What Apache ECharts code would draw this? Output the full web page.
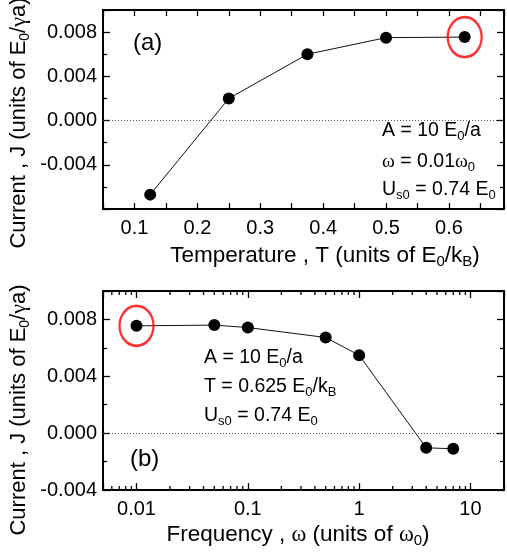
<!DOCTYPE html>
<html>
<head>
<meta charset="utf-8">
<script src="https://cdn.jsdelivr.net/npm/echarts@6/dist/echarts.min.js"></script>
<style>
  html, body { margin: 0; padding: 0; background: #fff; }
  #chart { width: 507px; height: 556px; }
</style>
</head>
<body>
<div id="chart"></div>
<script>
// panel (a): current vs temperature
const tempT = [0.125, 0.25, 0.375, 0.5, 0.625]
const currentA = [-0.0067, 0.0020, 0.0060, 0.0075, 0.00755]
const markedA = [0.625, 0.00755]
const xTicksA = ['0.1', '0.2', '0.3', '0.4', '0.5', '0.6']

// panel (b): current vs frequency
const freqW = [0.01, 0.05, 0.1, 0.5, 1, 4, 7]
const currentB = [0.00755, 0.0076, 0.00743, 0.00673, 0.00548, -0.00103, -0.0011]
const markedB = [0.01, 0.00755]
const xTicksB = ['0.01', '0.1', '1', '10']
const logMinorTicks = [0.006, 0.007, 0.008, 0.009, 0.02, 0.03, 0.04, 0.05, 0.06, 0.07, 0.08, 0.09,
  0.2, 0.3, 0.4, 0.5, 0.6, 0.7, 0.8, 0.9, 2, 3, 4, 5, 6, 7, 8, 9]

const yTicks = ['0.008', '0.004', '0.000', '-0.004']

const FONT = '"Liberation Sans", Arial, sans-serif'
const SERIF = '"Liberation Serif", "DejaVu Serif", serif'

const chart = echarts.init(document.getElementById('chart'))

function yLabel(v) {
  const s = (Math.round(v * 1000) / 1000 + 0).toFixed(3)
  return yTicks.includes(s) ? s : ''
}

function xAxisA(pos) {
  return {
    type: 'value', gridIndex: 0, position: pos,
    min: 0.05, max: 0.6875, interval: 0.05,
    axisLine: { onZero: false, lineStyle: { color: '#000', width: 2 } },
    axisTick: { inside: true, length: 6, lineStyle: { color: '#000', width: 1.3 } },
    axisLabel: {
      show: pos === 'bottom', color: '#000', fontSize: 20, fontFamily: FONT, margin: 9,
      formatter: v => {
        const s = String(Math.round(v * 100) / 100)
        return xTicksA.includes(s) ? s : ''
      }
    },
    splitLine: { show: false }
  }
}

function xAxisB(pos) {
  return {
    type: 'log', logBase: 10, gridIndex: 1, position: pos,
    min: 0.005, max: 20,
    axisLine: { onZero: false, lineStyle: { color: '#000', width: 2 } },
    axisTick: { inside: true, length: 7, lineStyle: { color: '#000', width: 1.3 } },
    axisLabel: {
      show: pos === 'bottom', color: '#000', fontSize: 20, fontFamily: FONT, margin: 9,
      formatter: v => {
        const s = String(+(+v).toPrecision(6))
        return xTicksB.includes(s) ? s : ''
      }
    },
    splitLine: { show: false }
  }
}

function yAxis(grid, pos, min) {
  return {
    type: 'value', gridIndex: grid, position: pos,
    min: min, max: 0.010, interval: 0.004,
    axisLine: { onZero: false, lineStyle: { color: '#000', width: 2 } },
    axisTick: { inside: true, length: 7, lineStyle: { color: '#000', width: 1.3 } },
    minorTick: { show: true, splitNumber: 2, length: 4, lineStyle: { color: '#000', width: 1.3 } },
    axisLabel: { show: pos === 'left', color: '#000', fontSize: 20, fontFamily: FONT, margin: 6, formatter: yLabel },
    splitLine: { show: false },
    minorSplitLine: { show: false }
  }
}

const zeroLine = {
  silent: true, symbol: 'none', animation: false,
  label: { show: false },
  lineStyle: { color: '#555', type: [1, 2], width: 1 },
  data: [{ yAxis: 0 }]
}

function dataSeries(x, y, xs, ys) {
  return {
    type: 'line', xAxisIndex: x, yAxisIndex: y,
    data: xs.map((v, i) => [v, ys[i]]),
    symbol: 'circle', symbolSize: 12,
    itemStyle: { color: '#000' },
    lineStyle: { color: '#111', width: 1 },
    markLine: zeroLine,
    z: 3
  }
}

function ring(x, y, point) {
  return {
    type: 'scatter', xAxisIndex: x, yAxisIndex: y,
    data: [point],
    symbol: 'circle', symbolSize: [34, 40],
    itemStyle: { color: 'rgba(0,0,0,0)', borderColor: '#ff0000', borderWidth: 2.5 },
    z: 4
  }
}

// sub/serif pieces for the rich texts
function rich(size, lh, subLh) {
  const sub = Math.round(size * 0.65)
  return {
    s: { fontSize: sub, fontFamily: FONT, lineHeight: subLh, verticalAlign: 'bottom', fill: '#000' },
    g: { fontSize: size, fontFamily: SERIF, lineHeight: lh, fill: '#000' }
  }
}

function label(text, x, y, size, opts) {
  opts = opts || {}
  const lh = size + 4
  return {
    type: 'text', x: x, y: y, rotation: opts.rotation || 0, silent: true,
    style: {
      text: text, fill: '#000', fontSize: size, fontFamily: FONT, lineHeight: lh,
      align: opts.align || 'left', verticalAlign: 'middle',
      rich: rich(size, lh, lh - 15)
    }
  }
}

const option = {
  animation: false,
  textStyle: { fontFamily: FONT },
  grid: [
    { left: 103, top: 10, width: 404, height: 199 },
    { left: 103, top: 291, width: 405, height: 199 }
  ],
  xAxis: [xAxisA('bottom'), xAxisA('top'), xAxisB('bottom'), xAxisB('top')],
  yAxis: [yAxis(0, 'left', -0.008), yAxis(0, 'right', -0.008), yAxis(1, 'left', -0.004), yAxis(1, 'right', -0.004)],
  series: [
    dataSeries(0, 0, tempT, currentA),
    ring(0, 0, markedA),
    dataSeries(2, 2, freqW, currentB),
    ring(2, 2, markedB),
    {
      // minor ticks of the log axis (2..9 of every decade), bottom and top edge
      type: 'custom', xAxisIndex: 2, yAxisIndex: 2, silent: true, clip: false,
      data: logMinorTicks.map(v => [v, 0]),
      renderItem: (params, api) => {
        const px = api.coord([api.value(0), 0])[0]
        const top = params.coordSys.y
        const bot = top + params.coordSys.height
        return {
          type: 'group',
          children: [
            { type: 'line', shape: { x1: px, y1: bot, x2: px, y2: bot - 4 }, style: { stroke: '#000', lineWidth: 1.3 } },
            { type: 'line', shape: { x1: px, y1: top, x2: px, y2: top + 4 }, style: { stroke: '#000', lineWidth: 1.3 } }
          ]
        }
      }
    }
  ],
  graphic: [
    label('Current , J (units of E{s|0}/{g|γ}a)', 19, 123, 22, { rotation: Math.PI / 2, align: 'center' }),
    label('Temperature , T (units of E{s|0}/k{s|B})', 325, 256, 22.5, { align: 'center' }),
    label('(a)', 133, 43, 24),
    label('A = 10 E{s|0}/a', 382, 131, 19.5),
    label('{g|ω} = 0.01{g|ω}{s|0}', 382, 162, 19.5),
    label('U{s|s0} = 0.74 E{s|0}', 382, 190, 19.5),

    label('Current , J (units of E{s|0}/{g|γ}a)', 19, 410, 22, { rotation: Math.PI / 2, align: 'center' }),
    label('Frequency , {g|ω} (units of {g|ω}{s|0})', 298, 535, 22.5, { align: 'center' }),
    label('(b)', 130, 459, 24),
    label('A = 10 E{s|0}/a', 204, 358, 19.5),
    label('T = 0.625 E{s|0}/k{s|B}', 204, 387, 19.5),
    label('U{s|s0} = 0.74 E{s|0}', 204, 416, 19.5)
  ]
}

chart.setOption(option)
window.addEventListener('resize', () => {
  chart.resize()
})
</script>
</body>
</html>
